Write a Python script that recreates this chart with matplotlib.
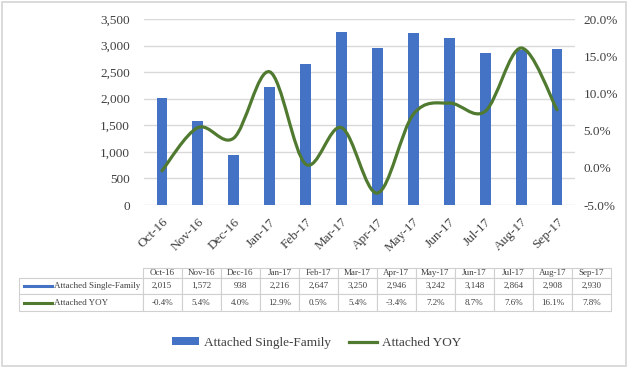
import matplotlib

matplotlib.use("Agg")
import matplotlib.pyplot as plt
import numpy as np
from matplotlib.lines import Line2D
from matplotlib.patches import Patch, PathPatch, Rectangle
from matplotlib.path import Path
from matplotlib.table import Table
from matplotlib.ticker import FuncFormatter, MultipleLocator

months = ["Oct-16", "Nov-16", "Dec-16", "Jan-17", "Feb-17", "Mar-17",
          "Apr-17", "May-17", "Jun-17", "Jul-17", "Aug-17", "Sep-17"]
single_family = [2015, 1572, 938, 2216, 2647, 3250, 2946, 3242, 3148, 2864, 2908, 2930]
yoy = [-0.4, 5.4, 4.0, 12.9, 0.5, 5.4, -3.4, 7.2, 8.7, 7.6, 16.1, 7.8]
bar_label = "Attached Single-Family"
line_label = "Attached YOY"

BLUE = "#4472C4"
GREEN = "#507A30"
GRID = "#D9D9D9"
TEXT = "#404040"

plt.rcParams["font.family"] = ["Liberation Serif", "DejaVu Serif"]


def smooth_path(xs, ys):
    # excel style smoothed line: cubic bezier segments through every point
    pts = np.column_stack([xs, ys]).astype(float)
    ext = np.vstack([pts[0], pts, pts[-1]])
    verts = [pts[0]]
    codes = [Path.MOVETO]
    for i in range(len(pts) - 1):
        p0, p1, p2, p3 = ext[i], ext[i + 1], ext[i + 2], ext[i + 3]
        verts += [p1 + (p2 - p0) / 6, p2 - (p3 - p1) / 6, p2]
        codes += [Path.CURVE4] * 3
    return Path(verts, codes)


fig = plt.figure(figsize=(6.3, 3.68), dpi=100)
fig.patches.append(Rectangle((2 / 630, 2 / 368), 624 / 630, 364 / 368,
                             transform=fig.transFigure, fill=False,
                             edgecolor="#D4D4D4", linewidth=1.2))

ax = fig.add_axes([144 / 630, 1 - 205 / 368, 431 / 630, 186 / 368])
x = np.arange(len(months))
ax.bar(x, single_family, width=0.3, color=BLUE, zorder=2)
ax.set_xlim(-0.5, len(months) - 0.5)
ax.set_ylim(0, 3500)
ax.yaxis.set_major_locator(MultipleLocator(500))
ax.yaxis.set_major_formatter(FuncFormatter(lambda v, _: f"{v:,.0f}"))
ax.grid(axis="y", color=GRID, linewidth=1, zorder=0)
ax.set_axisbelow(True)
for s in ax.spines.values():
    s.set_visible(False)
ax.set_xticks(x)
ax.set_xticklabels(months, rotation=45, ha="right", rotation_mode="anchor")
ax.tick_params(axis="both", length=0, labelsize=9.5, labelcolor=TEXT)
ax.tick_params(axis="x", pad=8)
ax.tick_params(axis="y", pad=10)

ax2 = ax.twinx()
ax2.set_ylim(-5, 20)
ax2.yaxis.set_major_locator(MultipleLocator(5))
ax2.yaxis.set_major_formatter(FuncFormatter(lambda v, _: f"{v:.1f}%"))
ax2.tick_params(axis="y", length=0, labelsize=9.5, labelcolor=TEXT, pad=6)
for s in ax2.spines.values():
    s.set_visible(False)
ax2.add_patch(PathPatch(smooth_path(x, yoy), fill=False, edgecolor=GREEN,
                        linewidth=2.3, capstyle="round", zorder=3))

# data table under the chart
tax = fig.add_axes([19.3 / 630, 1 - 311 / 368, 591.7 / 630, 43.3 / 368])
tax.set_axis_off()
tax.set_xlim(0, 591.7)
tax.set_ylim(0, 43.3)
table = Table(tax, bbox=[0, 0, 1, 1])
label_w = 123.4
col_w = (591.7 - label_w) / len(months)
heights = [10.0, 16.6, 16.7]
rows = [[""] + months,
        [""] + [f"{v:,}" for v in single_family],
        [""] + [f"{v:.1f}%" for v in yoy]]
for r, row in enumerate(rows):
    for c, txt in enumerate(row):
        w = label_w if c == 0 else col_w
        cell = table.add_cell(r, c, w / 591.7, heights[r] / 43.3, text=txt, loc="center")
        cell.set_edgecolor("#D0D0D0")
        cell.set_linewidth(0.8)
        cell.get_text().set_fontsize(6.5)
        cell.get_text().set_color(TEXT)
        if r == 0 and c == 0:
            cell.visible_edges = ""
table.auto_set_font_size(False)
tax.add_table(table)

row_mid = [43.3 - 10 - 16.6 / 2, 16.7 / 2]
for ym, color, lab in [(row_mid[0], BLUE, bar_label), (row_mid[1], GREEN, line_label)]:
    tax.add_line(Line2D([4.5, 33], [ym, ym], color=color, linewidth=2.2))
    tax.text(35, ym, lab, fontsize=6.5, color=TEXT, va="center", ha="left")

handles = [Patch(facecolor=BLUE, label=bar_label),
           Line2D([], [], color=GREEN, linewidth=2.3, label=line_label)]
fig.legend(handles=handles, loc="center", bbox_to_anchor=(0.502, 1 - 343 / 368),
           ncol=2, frameon=False, fontsize=9.5, handlelength=2.1, handleheight=0.55,
           handletextpad=0.35, columnspacing=1.4, labelcolor=TEXT)

fig.savefig("out.png", dpi=100, facecolor="white")
